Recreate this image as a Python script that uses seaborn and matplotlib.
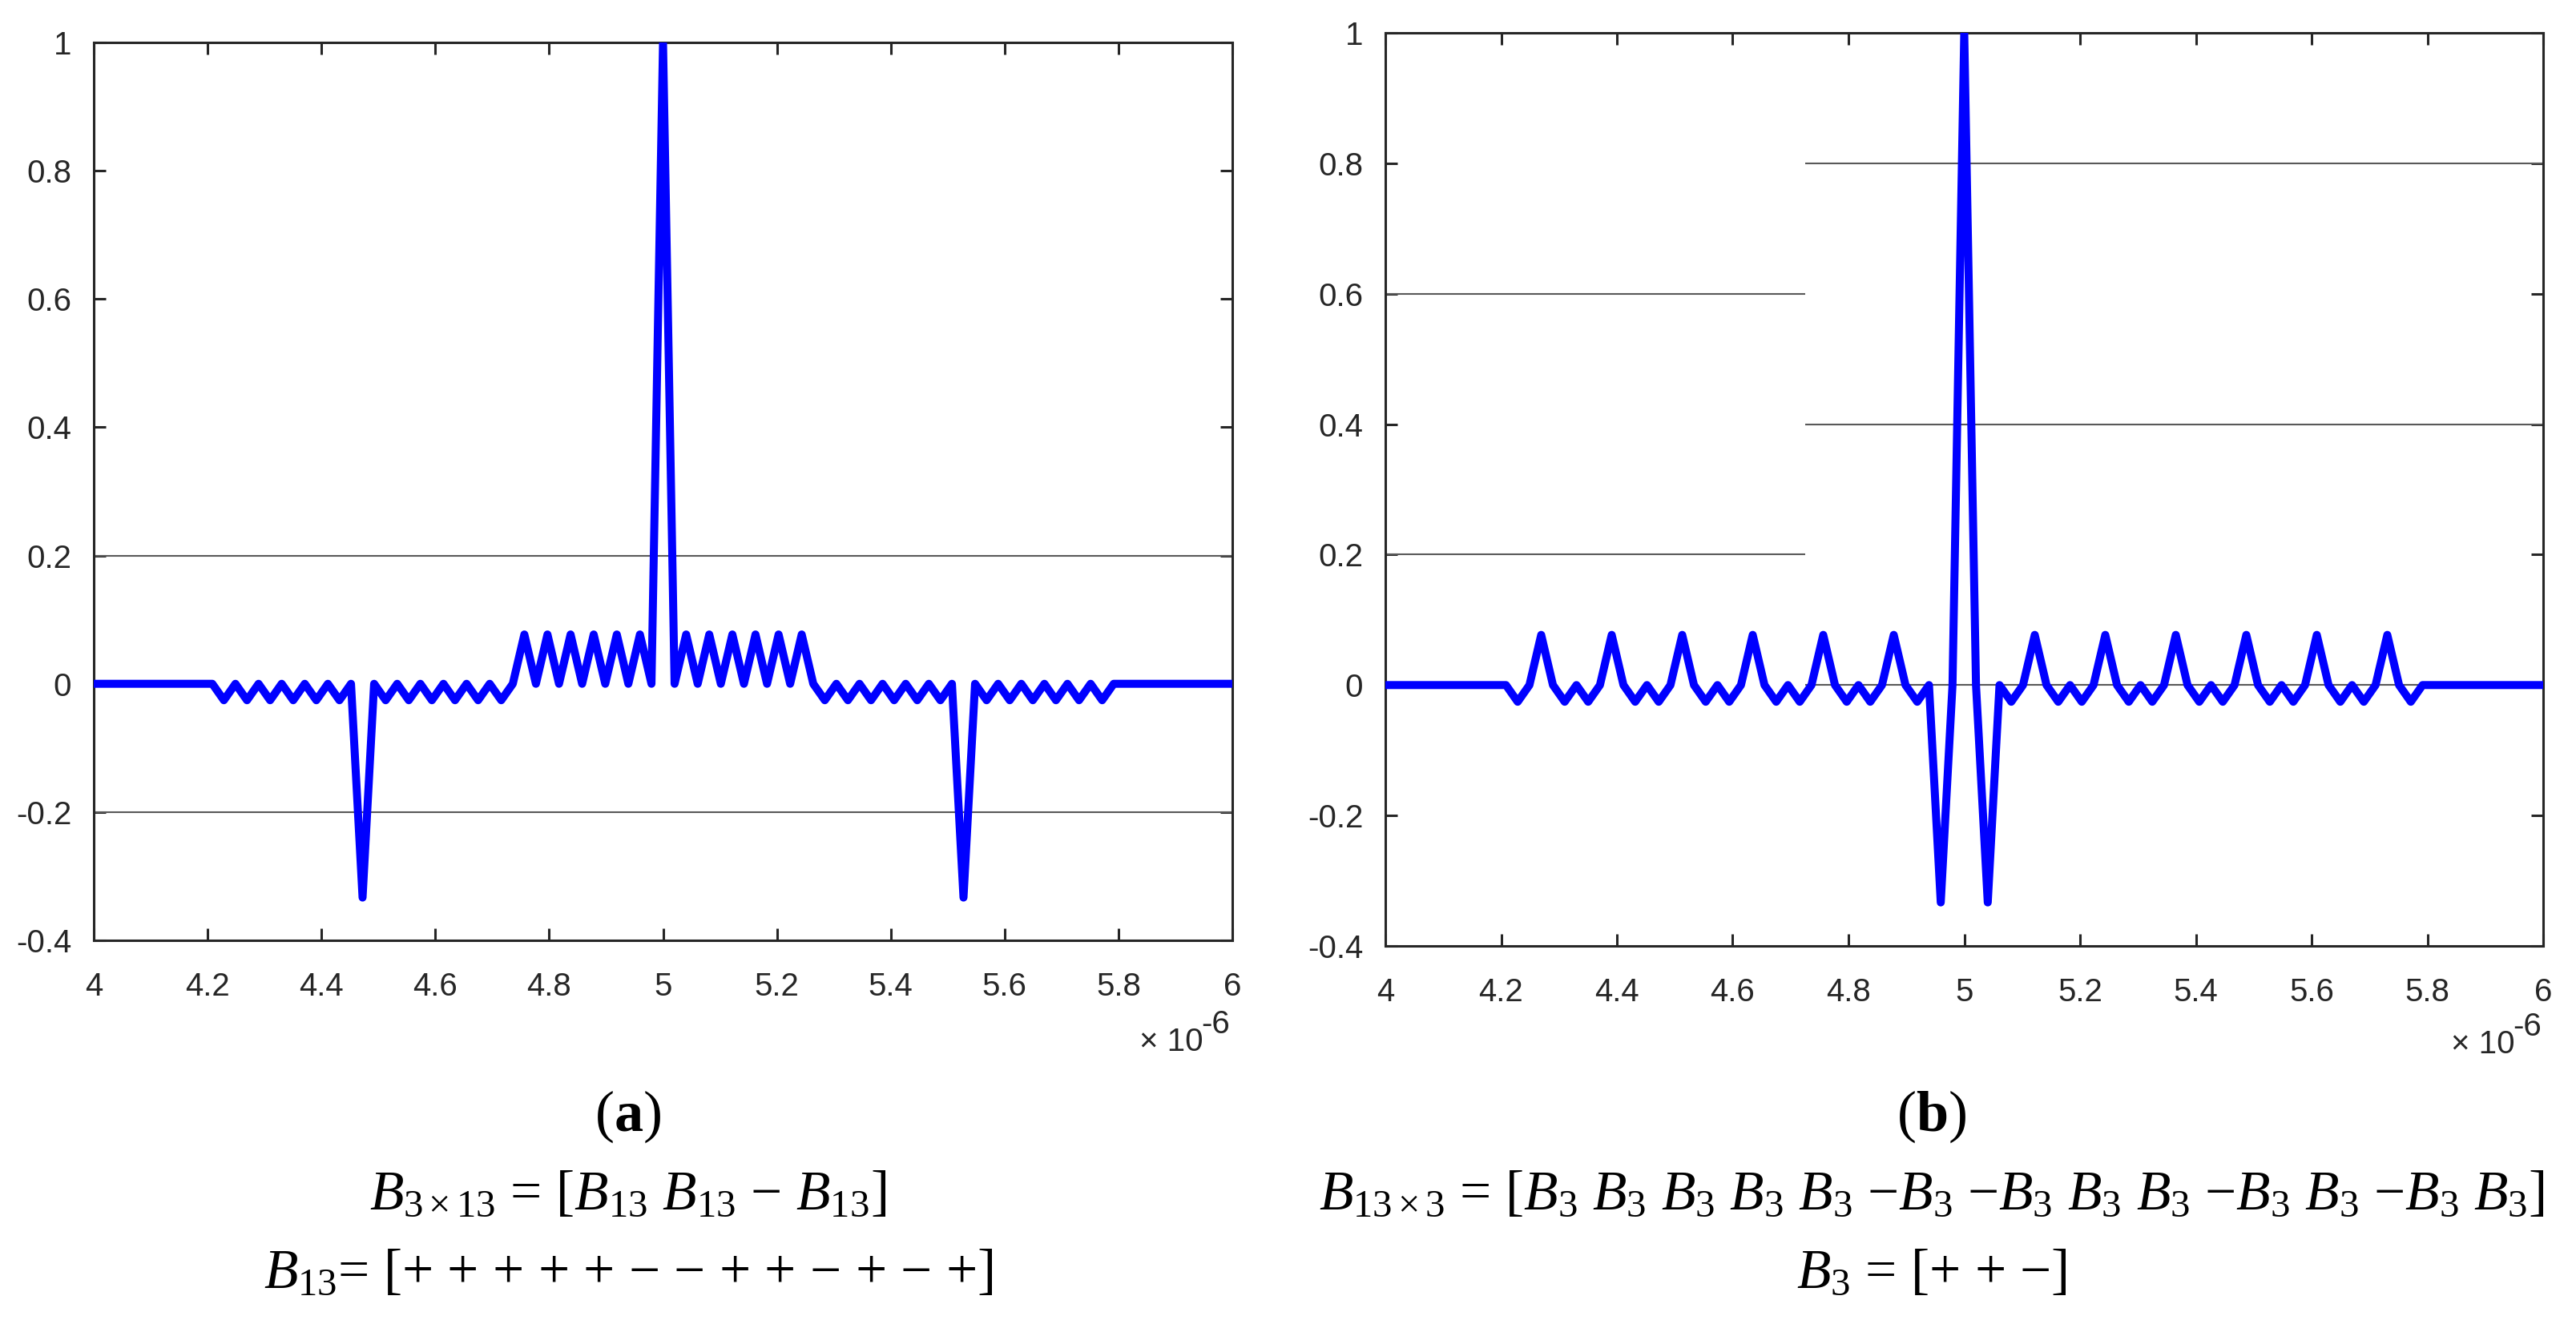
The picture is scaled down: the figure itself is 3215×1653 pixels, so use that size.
import matplotlib
matplotlib.use("Agg")
import matplotlib.pyplot as plt
import seaborn as sns
import pandas as pd

# ------------------------------------------
# Data: normalised autocorrelation (units of 1/39) of the two composite codes
# ------------------------------------------
lags = list(range(-39, 40))
chip_us = 0.0203          # chip duration in microseconds
center_us = 5.0
t_start, t_end = 4.0, 6.0

# (a) B3x13 = [B13 B13 -B13]
acf_a = [0,
         -1, 0, -1, 0, -1, 0, -1, 0, -1, 0, -1, 0,
         -13,
         0, -1, 0, -1, 0, -1, 0, -1, 0, -1, 0, -1,
         0,
         3, 0, 3, 0, 3, 0, 3, 0, 3, 0, 3, 0,
         39,
         0, 3, 0, 3, 0, 3, 0, 3, 0, 3, 0, 3,
         0,
         -1, 0, -1, 0, -1, 0, -1, 0, -1, 0, -1, 0,
         -13,
         0, -1, 0, -1, 0, -1, 0, -1, 0, -1, 0, -1,
         0]

# (b) B13x3 = B13 (x) B3
acf_b = [0, -1, 0, 3, 0, -1, 0, -1, 0, 3, 0, -1, 0, -1, 0, 3, 0, -1, 0, -1,
         0, 3, 0, -1, 0, -1, 0, 3, 0, -1, 0, -1, 0, 3, 0, -1, 0, -13, 0,
         39,
         0, -13, 0, -1, 0, 3, 0, -1, 0, -1, 0, 3, 0, -1, 0, -1, 0, 3, 0, -1,
         0, -1, 0, 3, 0, -1, 0, -1, 0, 3, 0, -1, 0, -1, 0, 3, 0, -1, 0]
code_len = 39

x_ticks = [4, 4.2, 4.4, 4.6, 4.8, 5, 5.2, 5.4, 5.6, 5.8, 6]
x_labels = ["4", "4.2", "4.4", "4.6", "4.8", "5", "5.2", "5.4", "5.6", "5.8", "6"]
y_ticks = [-0.4, -0.2, 0, 0.2, 0.4, 0.6, 0.8, 1]
y_labels = ["-0.4", "-0.2", "0", "0.2", "0.4", "0.6", "0.8", "1"]

# partial grid lines as they appear in the figure: (y, x from, x to)
grid_a = [(0.2, 4.0, 6.0), (-0.2, 4.0, 6.0)]
grid_b = [(0.8, 4.725, 6.0), (0.6, 4.0, 4.725), (0.4, 4.725, 6.0),
          (0.2, 4.0, 4.725), (0.0, 4.725, 6.0)]

B = r"$B$"
captions_a = ["(" + r"$\mathbf{a}$" + ")",
              r"$B_{\mathrm{3\times13}}$ = [$B_{\mathit{13}}$ $B_{\mathit{13}}$ \u2212 $B_{\mathit{13}}$]",
              r"$B_{\mathrm{13}}$= [+ + + + + \u2212 \u2212 + + \u2212 + \u2212 +]"]
captions_b = ["(" + r"$\mathbf{b}$" + ")",
              r"$B_{\mathrm{13\times3}}$ = [$B_3$ $B_3$ $B_3$ $B_3$ $B_3$ \u2212$B_3$ \u2212$B_3$ $B_3$ $B_3$ \u2212$B_3$ $B_3$ \u2212$B_3$ $B_3$]",
              r"$B_3$ = [+ + \u2212]"]
captions_a = [c.replace("\\u2212", "\u2212") for c in captions_a]
captions_b = [c.replace("\\u2212", "\u2212") for c in captions_b]


def build_frame(acf):
    t = [t_start] + [center_us + k * chip_us for k in lags] + [t_end]
    v = [0.0] + [a / code_len for a in acf] + [0.0]
    return pd.DataFrame({"t": t, "r": v})


df_a = build_frame(acf_a)
df_b = build_frame(acf_b)

# ------------------------------------------
# Style
# ------------------------------------------
sns.set_style("white")
plt.rcParams["font.family"] = ["Liberation Sans", "DejaVu Sans"]
plt.rcParams["mathtext.fontset"] = "custom"
plt.rcParams["mathtext.rm"] = "Liberation Serif"
plt.rcParams["mathtext.it"] = "Liberation Serif:italic"
plt.rcParams["mathtext.bf"] = "Liberation Serif:bold"

W, H = 3215, 1653
DPI = 200
fig = plt.figure(figsize=(W / DPI, H / DPI), dpi=DPI)
fig.patch.set_facecolor("white")

ink = "#262626"


def px_box(left, top, right, bottom):
    return [left / W, 1 - bottom / H, (right - left) / W, (bottom - top) / H]


def draw_panel(rect, df, grid):
    ax = fig.add_axes(rect)
    for y, x0, x1 in grid:
        ax.hlines(y, x0, x1, color="0.35", linewidth=0.75, zorder=1)
    sns.lineplot(data=df, x="t", y="r", ax=ax, color="#0000ff",
                 linewidth=3.6, sort=False, zorder=3)
    ax.lines[-1].set_solid_joinstyle("round")
    ax.set_xlim(4, 6)
    ax.set_ylim(-0.4, 1)
    ax.set_xticks(x_ticks)
    ax.set_xticklabels(x_labels)
    ax.set_yticks(y_ticks)
    ax.set_yticklabels(y_labels)
    ax.set_xlabel("")
    ax.set_ylabel("")
    for s in ax.spines.values():
        s.set_visible(True)
        s.set_color(ink)
        s.set_linewidth(1.1)
    ax.tick_params(direction="in", length=5.4, width=1.1, color=ink,
                   labelcolor=ink, labelsize=14.5, top=True, right=True,
                   bottom=True, left=True)
    ax.tick_params(axis="x", pad=14)
    ax.tick_params(axis="y", pad=10)
    return ax


ax_a = draw_panel(px_box(117, 53, 1538, 1174), df_a, grid_a)
ax_b = draw_panel(px_box(1729, 41, 3174, 1181), df_b, grid_b)


def fig_text(xp, yp, s, **kw):
    fig.text(xp / W, 1 - yp / H, s, **kw)


# x10^-6 multipliers
for x_end, base in [(1535, 1312), (3172, 1315)]:
    fig_text(x_end - 33, base, "\u00d7 10", ha="right", va="baseline",
             fontsize=14.5, color=ink)
    fig_text(x_end, base - 22, "-6", ha="right", va="baseline",
             fontsize=14.5, color=ink)

# captions
serif = ["Liberation Serif", "DejaVu Serif"]
for cx, caps in [(784, captions_a), (2411, captions_b)]:
    for yy, s, fs in zip([1394, 1493, 1591], caps, [26, 25, 25]):
        fig_text(cx, yy, s, ha="center", va="center", fontsize=fs,
                 color="black", family=serif)

fig.savefig("out.png", dpi=DPI, facecolor="white")
